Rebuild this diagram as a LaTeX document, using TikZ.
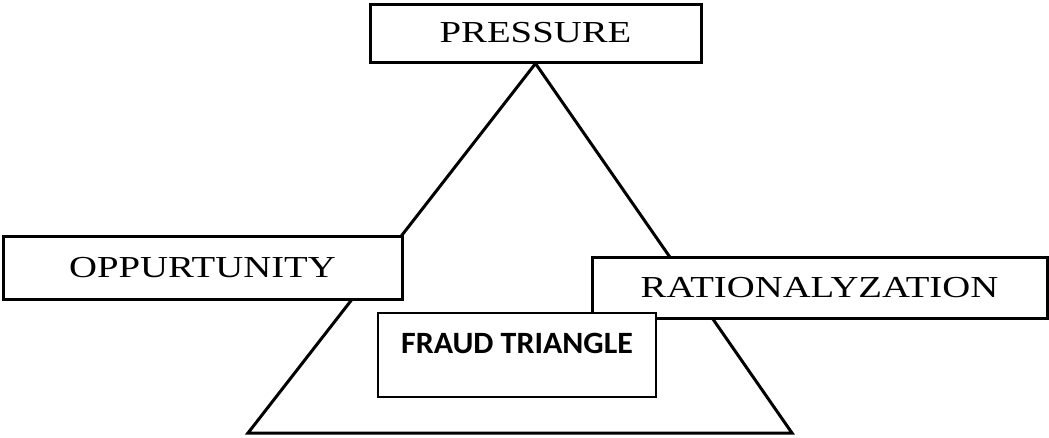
\documentclass[tikz,border=0pt]{standalone}
\usepackage{fontspec}
\setmainfont{Liberation Serif}
\newfontfamily\widefont{Liberation Serif}[FakeStretch=1.27]
\newfontfamily\calfont{Carlito}[FakeStretch=1.03]
\begin{document}
\begin{tikzpicture}[x=1pt,y=-1pt,
  box/.style={draw, line width=3pt, fill=white, inner sep=0pt,
    font=\widefont\fontsize{30.5}{36}\selectfont},
  tri/.style={line width=3pt, line join=miter},
  labelbox/.style={draw, line width=2pt, fill=white, inner sep=0pt,
    font=\calfont\bfseries\fontsize{31}{36}\selectfont,
    minimum width=278pt, text height=40pt, text depth=44pt}]
\useasboundingbox (0,0) rectangle (1049,437);
\node[box, minimum width=331pt, minimum height=58pt] (pressure) at (535.5,33) {PRESSURE};
\coordinate (bl) at (248,433);
\coordinate (br) at (792,433);
\draw[tri] (pressure.south) -- (bl) -- (br) -- cycle;
\node[box, minimum width=399pt, minimum height=63pt] (opportunity) at (202.5,267.5) {OPPURTUNITY};
\node[box, minimum width=455pt, minimum height=61pt] (rational) at (819.5,287.5) {RATIONALYZATION};
\node[labelbox] (fraud) at (517,355) {FRAUD TRIANGLE};
\end{tikzpicture}
\end{document}
